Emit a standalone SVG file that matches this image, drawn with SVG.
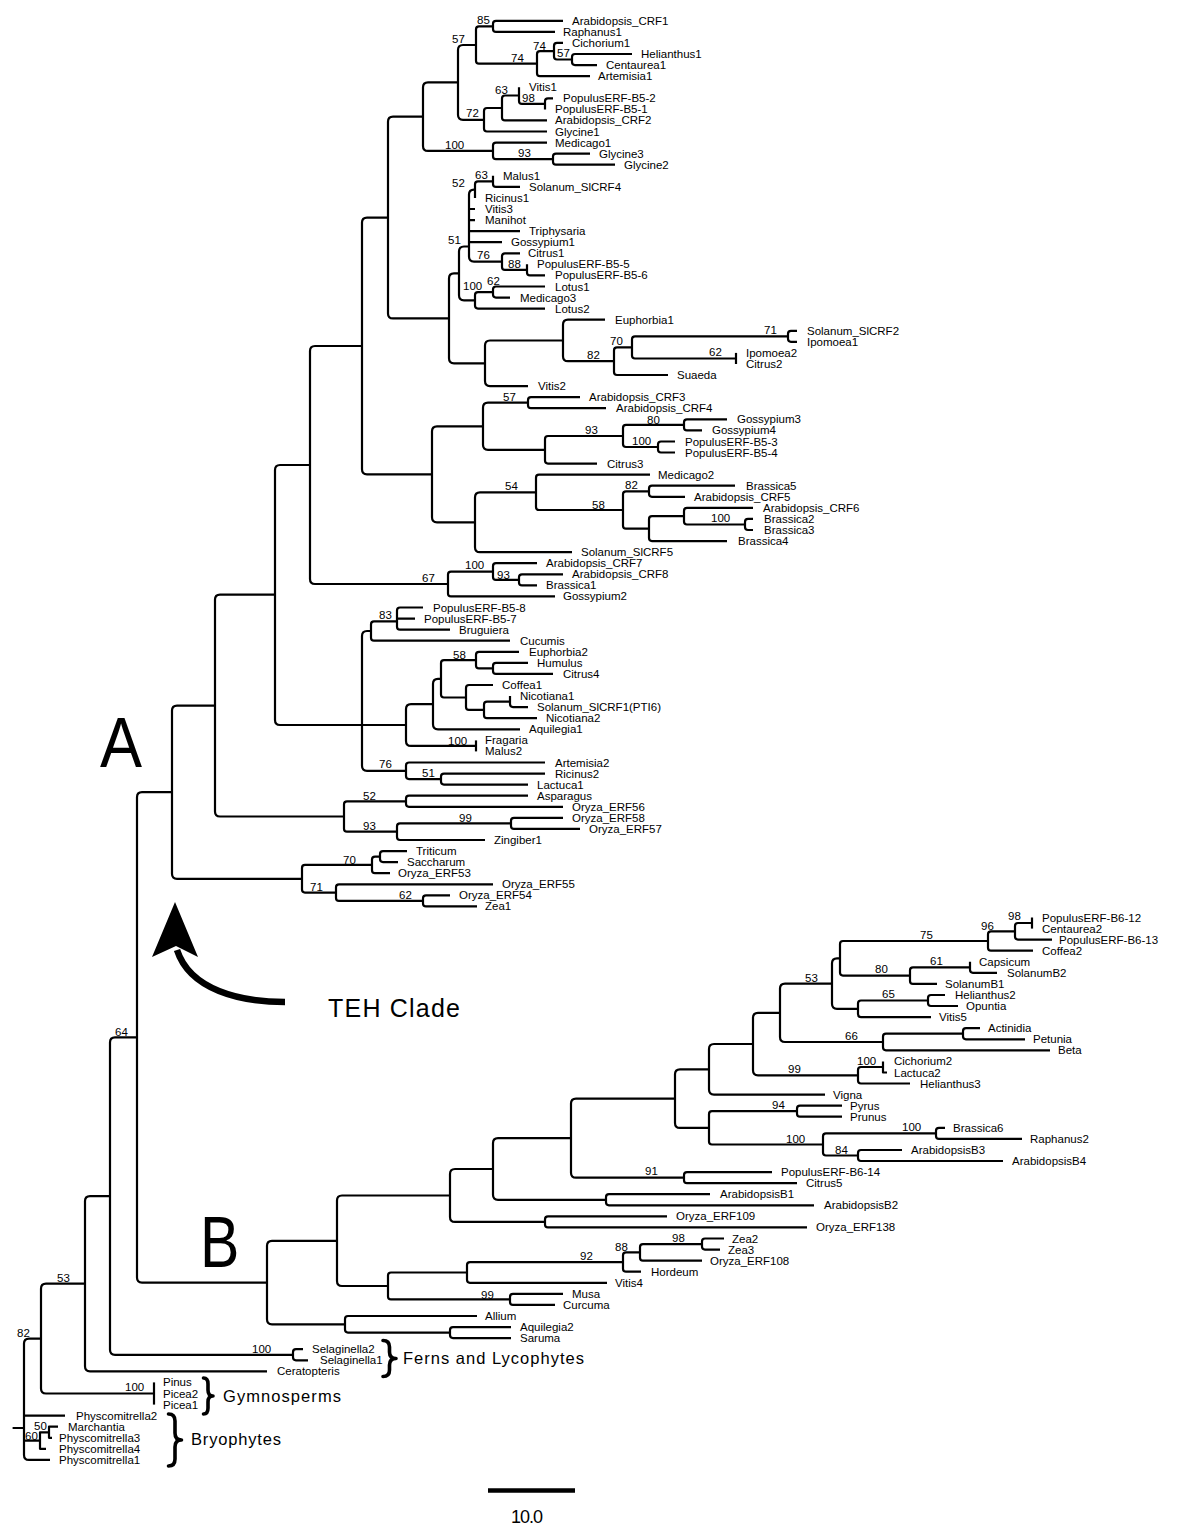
<svg xmlns="http://www.w3.org/2000/svg" width="1200" height="1529" viewBox="0 0 1200 1529">
<style>
.br{fill:none;stroke:#000;stroke-width:2.2;stroke-linejoin:round}
.lf{font-family:"Liberation Sans",Arial,sans-serif;font-size:11.5px;fill:#000}
.bs{font-family:"Liberation Sans",Arial,sans-serif;font-size:11.5px;fill:#000}
.big{font-family:"Liberation Sans",Arial,sans-serif;fill:#000}
.brace{fill:none;stroke:#000;stroke-width:3.6;stroke-linecap:round;stroke-linejoin:round}
</style>
<rect width="1200" height="1529" fill="#fff"/>
<g id="connectors" class="br">
<path d="M563 20.8H496Q493 20.8 493 23.8V28.9Q493 31.9 496 31.9H555"/>
<path d="M632 54H575Q572 54 572 57V62.1Q572 65.1 575 65.1H597"/>
<path d="M563 42.9H557Q554 42.9 554 45.9V56.5Q554 59.5 557 59.5H572"/>
<path d="M554 51.2H540Q537 51.2 537 54.2V73.2Q537 76.2 540 76.2H590"/>
<path d="M493 26.4H479Q476 26.4 476 29.4V60.7Q476 63.7 479 63.7H537"/>
<path d="M553 98.3H548Q545 98.3 545 101.3V109.4"/>
<path d="M519 87.2V100.9Q519 103.9 522 103.9H545"/>
<path d="M519 95.5H505Q502 95.5 502 98.5V117.4Q502 120.4 505 120.4H547"/>
<path d="M502 108H487Q484 108 484 111V128.5Q484 131.5 487 131.5H547"/>
<path d="M476 45H463Q458 45 458 50V114.8Q458 119.8 463 119.8H484"/>
<path d="M590 153.6H556Q553 153.6 553 156.6V161.7Q553 164.7 556 164.7H615"/>
<path d="M547 142.6H496Q493 142.6 493 145.6V156.2Q493 159.2 496 159.2H553"/>
<path d="M458 82.4H428Q423 82.4 423 87.4V145.9Q423 150.9 428 150.9H493"/>
<path d="M493 175.8V183.9Q493 186.9 496 186.9H520"/>
<path d="M493 181.4H478Q475 181.4 475 184.4V197.9"/>
<path d="M475 189.6H474Q469 189.6 469 194.6V256.6Q469 261.6 474 261.6H502M469 209H475M469 220.1H475M469 231.1H520M469 242.2H502"/>
<path d="M527 264.3V272.4Q527 275.4 530 275.4H545"/>
<path d="M520 253.3H505Q502 253.3 502 256.3V266.9Q502 269.9 505 269.9H527"/>
<path d="M545 286.5H496Q493 286.5 493 289.5V294.6Q493 297.6 496 297.6H510"/>
<path d="M493 292.1H478Q475 292.1 475 295.1V305.6Q475 308.6 478 308.6H545"/>
<path d="M469 246.5H464Q459 246.5 459 251.5V295.3Q459 300.3 464 300.3H475"/>
<path d="M797 330.8H791Q788 330.8 788 333.8V338.8Q788 341.8 791 341.8H797"/>
<path d="M736 352.9V364"/>
<path d="M788 336.3H635Q632 336.3 632 339.3V355.5Q632 358.5 635 358.5H736"/>
<path d="M632 347.4H617Q614 347.4 614 350.4V372Q614 375 617 375H668"/>
<path d="M605 319.7H568Q563 319.7 563 324.7V356.2Q563 361.2 568 361.2H614"/>
<path d="M563 340.5H490Q485 340.5 485 345.5V381.1Q485 386.1 490 386.1H528"/>
<path d="M459 273.4H454Q449 273.4 449 278.4V358.3Q449 363.3 454 363.3H485"/>
<path d="M423 116.7H393Q388 116.7 388 121.7V313.4Q388 318.4 393 318.4H449"/>
<path d="M580 397.2H531Q528 397.2 528 400.2V405.2Q528 408.2 531 408.2H606"/>
<path d="M727 419.3H687Q684 419.3 684 422.3V427.4Q684 430.4 687 430.4H702"/>
<path d="M675 441.5H661Q658 441.5 658 444.5V449.5Q658 452.5 661 452.5H675"/>
<path d="M684 424.9H626Q623 424.9 623 427.9V444Q623 447 626 447H658"/>
<path d="M623 436H548Q545 436 545 439V460.6Q545 463.6 548 463.6H597"/>
<path d="M528 402.7H488Q483 402.7 483 407.7V444.8Q483 449.8 488 449.8H545"/>
<path d="M735 485.7H652Q649 485.7 649 488.7V493.8Q649 496.8 652 496.8H685"/>
<path d="M753 518.9H748Q745 518.9 745 521.9V527Q745 530 748 530H753"/>
<path d="M753 507.9H687Q684 507.9 684 510.9V521.5Q684 524.5 687 524.5H745"/>
<path d="M684 516.2H652Q649 516.2 649 519.2V538.1Q649 541.1 652 541.1H727"/>
<path d="M649 491.3H626Q623 491.3 623 494.3V525.7Q623 528.7 626 528.7H649"/>
<path d="M650 474.7H539Q536 474.7 536 477.7V507Q536 510 539 510H623"/>
<path d="M536 492.4H480Q475 492.4 475 497.4V547.2Q475 552.2 480 552.2H572"/>
<path d="M483 426.3H437Q432 426.3 432 431.3V517.3Q432 522.3 437 522.3H475"/>
<path d="M388 217.6H367Q362 217.6 362 222.6V469.3Q362 474.3 367 474.3H432"/>
<path d="M563 574.3H522Q519 574.3 519 577.3V582.4Q519 585.4 522 585.4H537"/>
<path d="M537 563.2H496Q493 563.2 493 566.2V576.9Q493 579.9 496 579.9H519"/>
<path d="M493 571.6H451Q448 571.6 448 574.6V593.4Q448 596.4 451 596.4H555"/>
<path d="M362 346H315Q310 346 310 351V579Q310 584 315 584H448"/>
<path d="M423 607.5H400Q397 607.5 397 610.5V626.7Q397 629.7 400 629.7H450M397 618.6H415"/>
<path d="M397 621.4H374Q371 621.4 371 624.4V637.7Q371 640.7 374 640.7H510"/>
<path d="M528 662.9H496Q493 662.9 493 665.9V670.9Q493 673.9 496 673.9H553"/>
<path d="M519 651.8H479Q476 651.8 476 654.8V665.4Q476 668.4 479 668.4H493"/>
<path d="M510 696.1V704.1Q510 707.1 513 707.1H528"/>
<path d="M510 701.6H487Q484 701.6 484 704.6V715.2Q484 718.2 487 718.2H537"/>
<path d="M493 685H469Q466 685 466 688V706.9Q466 709.9 469 709.9H484"/>
<path d="M476 660.1H444Q441 660.1 441 663.1V694.5Q441 697.5 444 697.5H466"/>
<path d="M441 678.8H438Q433 678.8 433 683.8V724.3Q433 729.3 438 729.3H520"/>
<path d="M476 740.4V751.4"/>
<path d="M433 704.1H411Q406 704.1 406 709.1V740.9Q406 745.9 411 745.9H476"/>
<path d="M545 773.6H444Q441 773.6 441 776.6V781.6Q441 784.6 444 784.6H528"/>
<path d="M545 762.5H409Q406 762.5 406 765.5V776.1Q406 779.1 409 779.1H441"/>
<path d="M371 631H367Q362 631 362 636V765.8Q362 770.8 367 770.8H406M362 725H406"/>
<path d="M310 465H280Q275 465 275 470V720Q275 725 280 725H362"/>
<path d="M528 795.7H409Q406 795.7 406 798.7V803.8Q406 806.8 409 806.8H563"/>
<path d="M563 817.8H514Q511 817.8 511 820.8V825.9Q511 828.9 514 828.9H580"/>
<path d="M511 823.4H400Q397 823.4 397 826.4V837Q397 840 400 840H485"/>
<path d="M406 801.3H347Q344 801.3 344 804.3V828.7Q344 831.7 347 831.7H397"/>
<path d="M275 594.6H220Q215 594.6 215 599.6V811.5Q215 816.5 220 816.5H344"/>
<path d="M407 851.1H383Q380 851.1 380 854.1V859.1Q380 862.1 383 862.1H398"/>
<path d="M380 856.6H375Q372 856.6 372 859.6V870.2Q372 873.2 375 873.2H390"/>
<path d="M450 895.3H426Q423 895.3 423 898.3V903.4Q423 906.4 426 906.4H477"/>
<path d="M493 884.3H339Q336 884.3 336 887.3V897.9Q336 900.9 339 900.9H423"/>
<path d="M372 864.9H305Q302 864.9 302 867.9V889.6Q302 892.6 305 892.6H336"/>
<path d="M215 705.6H177Q172 705.6 172 710.6V873.8Q172 878.8 177 878.8H302"/>
<path d="M1032 917.5V928.6"/>
<path d="M1032 923H1018Q1015 923 1015 926V936.6Q1015 939.6 1018 939.6H1052"/>
<path d="M1015 931.3H991Q988 931.3 988 934.3V947.7Q988 950.7 991 950.7H1033"/>
<path d="M970 961.8V969.8Q970 972.8 973 972.8H997"/>
<path d="M970 967.3H913Q910 967.3 910 970.3V980.9Q910 983.9 913 983.9H937"/>
<path d="M988 941H843Q840 941 840 944V972.6Q840 975.6 843 975.6H910"/>
<path d="M945 995H931Q928 995 928 998V1003Q928 1006 931 1006H958"/>
<path d="M928 1000.5H861Q858 1000.5 858 1003.5V1014.1Q858 1017.1 861 1017.1H931"/>
<path d="M840 958.3H837Q832 958.3 832 963.3V1003.8Q832 1008.8 837 1008.8H858"/>
<path d="M980 1028.2H966Q963 1028.2 963 1031.2V1036.3Q963 1039.3 966 1039.3H1025"/>
<path d="M963 1033.7H886Q883 1033.7 883 1036.7V1047.3Q883 1050.3 886 1050.3H1050"/>
<path d="M832 983.6H785Q780 983.6 780 988.6V1037Q780 1042 785 1042H883"/>
<path d="M883 1061.4V1072.5H887"/>
<path d="M883 1067H861Q858 1067 858 1070V1080.5Q858 1083.5 861 1083.5H910"/>
<path d="M780 1012.8H758Q753 1012.8 753 1017.8V1070.3Q753 1075.3 758 1075.3H858"/>
<path d="M753 1044H714Q709 1044 709 1049V1089.6Q709 1094.6 714 1094.6H825"/>
<path d="M842 1105.7H800Q797 1105.7 797 1108.7V1113.7Q797 1116.7 800 1116.7H842"/>
<path d="M945 1127.8H939Q936 1127.8 936 1130.8V1135.9Q936 1138.9 939 1138.9H1022"/>
<path d="M902 1150H861Q858 1150 858 1153V1158Q858 1161 861 1161H1003"/>
<path d="M936 1133.4H826Q823 1133.4 823 1136.4V1152.5Q823 1155.5 826 1155.5H858"/>
<path d="M797 1111.2H712Q709 1111.2 709 1114.2V1141.5Q709 1144.5 712 1144.5H823"/>
<path d="M709 1069.3H680Q675 1069.3 675 1074.3V1122.9Q675 1127.9 680 1127.9H709"/>
<path d="M772 1172.1H687Q684 1172.1 684 1175.1V1180.2Q684 1183.2 687 1183.2H797"/>
<path d="M675 1098.6H576Q571 1098.6 571 1103.6V1172.7Q571 1177.7 576 1177.7H684"/>
<path d="M710 1194.2H609Q606 1194.2 606 1197.2V1202.3Q606 1205.3 609 1205.3H814"/>
<path d="M571 1138.2H498Q493 1138.2 493 1143.2V1194.8Q493 1199.8 498 1199.8H606"/>
<path d="M667 1216.4H548Q545 1216.4 545 1219.4V1224.4Q545 1227.4 548 1227.4H807"/>
<path d="M493 1169H455Q450 1169 450 1174V1216.9Q450 1221.9 455 1221.9H545"/>
<path d="M724 1238.5H705Q702 1238.5 702 1241.5V1246.6Q702 1249.6 705 1249.6H720"/>
<path d="M702 1244.1H643Q640 1244.1 640 1247.1V1257.7Q640 1260.7 643 1260.7H702"/>
<path d="M640 1252.4H626Q623 1252.4 623 1255.4V1268.7Q623 1271.7 626 1271.7H641"/>
<path d="M623 1262.1H470Q467 1262.1 467 1265.1V1279.8Q467 1282.8 470 1282.8H607"/>
<path d="M563 1293.9H513Q510 1293.9 510 1296.9V1301.9Q510 1304.9 513 1304.9H555"/>
<path d="M467 1272.5H391Q388 1272.5 388 1275.5V1296.4Q388 1299.4 391 1299.4H510"/>
<path d="M450 1195.5H342Q337 1195.5 337 1200.5V1281Q337 1286 342 1286H388"/>
<path d="M511 1327.1H453Q450 1327.1 450 1330.1V1335.1Q450 1338.1 453 1338.1H511"/>
<path d="M477 1316H348Q345 1316 345 1319V1329.6Q345 1332.6 348 1332.6H450"/>
<path d="M337 1240.8H272Q267 1240.8 267 1245.8V1319.3Q267 1324.3 272 1324.3H345"/>
<path d="M172 792.2H142Q137 792.2 137 797.2V1277.6Q137 1282.6 142 1282.6H267"/>
<path d="M303 1349.2H296Q293 1349.2 293 1352.2V1357.3Q293 1360.3 296 1360.3H308"/>
<path d="M137 1037.4H115Q110 1037.4 110 1042.4V1349.8Q110 1354.8 115 1354.8H293"/>
<path d="M110 1196.1H90Q85 1196.1 85 1201.1V1366.3Q85 1371.3 90 1371.3H267"/>
<path d="M154 1382.4V1404.6"/>
<path d="M85 1283.7H46Q41 1283.7 41 1288.7V1388.5Q41 1393.5 46 1393.5H154"/>
<path d="M58 1426.7H49V1437.8H52"/>
<path d="M49 1432.3H40V1448.8H46"/>
<path d="M41 1338.6H29Q24 1338.6 24 1343.6V1454.9Q24 1459.9 29 1459.9H50M24 1415.6H65M24 1440.6H40M12.6 1428H24"/>
</g>
<g id="support" class="bs">
<text x="477" y="24">85</text><text x="452" y="42.5">57</text><text x="511" y="61.5">74</text><text x="533" y="49.5">74</text><text x="557" y="57">57</text>
<text x="495" y="94">63</text><text x="522" y="102">98</text><text x="466" y="117">72</text><text x="445" y="148.5">100</text><text x="518" y="157">93</text>
<text x="475" y="179">63</text><text x="452" y="187">52</text><text x="448" y="244">51</text><text x="477" y="259">76</text><text x="508" y="267.5">88</text>
<text x="463" y="290">100</text><text x="487" y="285">62</text><text x="587" y="359">82</text><text x="610" y="344.5">70</text><text x="764" y="334">71</text>
<text x="709" y="356">62</text><text x="503" y="401">57</text><text x="585" y="433.5">93</text><text x="647" y="423.5">80</text><text x="632" y="445">100</text>
<text x="505" y="490">54</text><text x="625" y="489">82</text><text x="592" y="508.5">58</text><text x="711" y="522">100</text><text x="465" y="569">100</text>
<text x="497" y="578.5">93</text><text x="422" y="581.5">67</text><text x="379" y="619">83</text><text x="453" y="658.5">58</text><text x="448" y="744.5">100</text>
<text x="379" y="768">76</text><text x="422" y="777">51</text><text x="363" y="799.5">52</text><text x="459" y="821.5">99</text><text x="363" y="830">93</text>
<text x="343" y="863.5">70</text><text x="310" y="890.5">71</text><text x="399" y="899">62</text>
<text x="1008" y="920">98</text><text x="981" y="929.5">96</text><text x="920" y="939">75</text><text x="930" y="965">61</text><text x="875" y="973">80</text>
<text x="805" y="981.5">53</text><text x="882" y="998">65</text><text x="845" y="1040">66</text><text x="857" y="1065">100</text><text x="788" y="1073">99</text>
<text x="772" y="1109">94</text><text x="902" y="1131">100</text><text x="786" y="1143">100</text><text x="835" y="1153.5">84</text><text x="645" y="1175">91</text>
<text x="672" y="1242">98</text><text x="615" y="1250.5">88</text><text x="580" y="1260">92</text><text x="481" y="1298.5">99</text><text x="252" y="1352.5">100</text>
<text x="115" y="1035.5">64</text><text x="57" y="1281.5">53</text><text x="125" y="1390.5">100</text><text x="17" y="1336.5">82</text><text x="34" y="1430">50</text><text x="25" y="1440">60</text>
</g>
<g id="leaves" class="lf">
<g id="t-Arabidopsis_CRF1"><text x="572" y="24.8">Arabidopsis_CRF1</text></g>
<g id="t-Raphanus1"><text x="563" y="35.9">Raphanus1</text></g>
<g id="t-Cichorium1"><text x="572" y="46.9">Cichorium1</text></g>
<g id="t-Helianthus1"><text x="641" y="58">Helianthus1</text></g>
<g id="t-Centaurea1"><text x="606" y="69.1">Centaurea1</text></g>
<g id="t-Artemisia1"><text x="598" y="80.2">Artemisia1</text></g>
<g id="t-Vitis1"><text x="529" y="91.2">Vitis1</text></g>
<g id="t-PopulusERF-B5-2"><text x="563" y="102.3">PopulusERF-B5-2</text></g>
<g id="t-PopulusERF-B5-1"><text x="555" y="113.4">PopulusERF-B5-1</text></g>
<g id="t-Arabidopsis_CRF2"><text x="555" y="124.4">Arabidopsis_CRF2</text></g>
<g id="t-Glycine1"><text x="555" y="135.5">Glycine1</text></g>
<g id="t-Medicago1"><text x="555" y="146.6">Medicago1</text></g>
<g id="t-Glycine3"><text x="599" y="157.6">Glycine3</text></g>
<g id="t-Glycine2"><text x="624" y="168.7">Glycine2</text></g>
<g id="t-Malus1"><text x="503" y="179.8">Malus1</text></g>
<g id="t-Solanum_SlCRF4"><text x="529" y="190.9">Solanum_SlCRF4</text></g>
<g id="t-Ricinus1"><text x="485" y="201.9">Ricinus1</text></g>
<g id="t-Vitis3"><text x="485" y="213">Vitis3</text></g>
<g id="t-Manihot"><text x="485" y="224.1">Manihot</text></g>
<g id="t-Triphysaria"><text x="529" y="235.1">Triphysaria</text></g>
<g id="t-Gossypium1"><text x="511" y="246.2">Gossypium1</text></g>
<g id="t-Citrus1"><text x="528" y="257.3">Citrus1</text></g>
<g id="t-PopulusERF-B5-5"><text x="537" y="268.3">PopulusERF-B5-5</text></g>
<g id="t-PopulusERF-B5-6"><text x="555" y="279.4">PopulusERF-B5-6</text></g>
<g id="t-Lotus1"><text x="555" y="290.5">Lotus1</text></g>
<g id="t-Medicago3"><text x="520" y="301.6">Medicago3</text></g>
<g id="t-Lotus2"><text x="555" y="312.6">Lotus2</text></g>
<g id="t-Euphorbia1"><text x="615" y="323.7">Euphorbia1</text></g>
<g id="t-Solanum_SlCRF2"><text x="807" y="334.8">Solanum_SlCRF2</text></g>
<g id="t-Ipomoea1"><text x="807" y="345.8">Ipomoea1</text></g>
<g id="t-Ipomoea2"><text x="746" y="356.9">Ipomoea2</text></g>
<g id="t-Citrus2"><text x="746" y="368">Citrus2</text></g>
<g id="t-Suaeda"><text x="677" y="379">Suaeda</text></g>
<g id="t-Vitis2"><text x="538" y="390.1">Vitis2</text></g>
<g id="t-Arabidopsis_CRF3"><text x="589" y="401.2">Arabidopsis_CRF3</text></g>
<g id="t-Arabidopsis_CRF4"><text x="616" y="412.2">Arabidopsis_CRF4</text></g>
<g id="t-Gossypium3"><text x="737" y="423.3">Gossypium3</text></g>
<g id="t-Gossypium4"><text x="712" y="434.4">Gossypium4</text></g>
<g id="t-PopulusERF-B5-3"><text x="685" y="445.5">PopulusERF-B5-3</text></g>
<g id="t-PopulusERF-B5-4"><text x="685" y="456.5">PopulusERF-B5-4</text></g>
<g id="t-Citrus3"><text x="607" y="467.6">Citrus3</text></g>
<g id="t-Medicago2"><text x="658" y="478.7">Medicago2</text></g>
<g id="t-Brassica5"><text x="746" y="489.7">Brassica5</text></g>
<g id="t-Arabidopsis_CRF5"><text x="694" y="500.8">Arabidopsis_CRF5</text></g>
<g id="t-Arabidopsis_CRF6"><text x="763" y="511.9">Arabidopsis_CRF6</text></g>
<g id="t-Brassica2"><text x="764" y="522.9">Brassica2</text></g>
<g id="t-Brassica3"><text x="764" y="534">Brassica3</text></g>
<g id="t-Brassica4"><text x="738" y="545.1">Brassica4</text></g>
<g id="t-Solanum_SlCRF5"><text x="581" y="556.2">Solanum_SlCRF5</text></g>
<g id="t-Arabidopsis_CRF7"><text x="546" y="567.2">Arabidopsis_CRF7</text></g>
<g id="t-Arabidopsis_CRF8"><text x="572" y="578.3">Arabidopsis_CRF8</text></g>
<g id="t-Brassica1"><text x="546" y="589.4">Brassica1</text></g>
<g id="t-Gossypium2"><text x="563" y="600.4">Gossypium2</text></g>
<g id="t-PopulusERF-B5-8"><text x="433" y="611.5">PopulusERF-B5-8</text></g>
<g id="t-PopulusERF-B5-7"><text x="424" y="622.6">PopulusERF-B5-7</text></g>
<g id="t-Bruguiera"><text x="459" y="633.7">Bruguiera</text></g>
<g id="t-Cucumis"><text x="520" y="644.7">Cucumis</text></g>
<g id="t-Euphorbia2"><text x="529" y="655.8">Euphorbia2</text></g>
<g id="t-Humulus"><text x="537" y="666.9">Humulus</text></g>
<g id="t-Citrus4"><text x="563" y="677.9">Citrus4</text></g>
<g id="t-Coffea1"><text x="502" y="689">Coffea1</text></g>
<g id="t-Nicotiana1"><text x="520" y="700.1">Nicotiana1</text></g>
<g id="t-Solanum_SlCRF1_PTI6"><text x="537" y="711.1">Solanum_SlCRF1(PTI6)</text></g>
<g id="t-Nicotiana2"><text x="546" y="722.2">Nicotiana2</text></g>
<g id="t-Aquilegia1"><text x="529" y="733.3">Aquilegia1</text></g>
<g id="t-Fragaria"><text x="485" y="744.4">Fragaria</text></g>
<g id="t-Malus2"><text x="485" y="755.4">Malus2</text></g>
<g id="t-Artemisia2"><text x="555" y="766.5">Artemisia2</text></g>
<g id="t-Ricinus2"><text x="555" y="777.6">Ricinus2</text></g>
<g id="t-Lactuca1"><text x="537" y="788.6">Lactuca1</text></g>
<g id="t-Asparagus"><text x="537" y="799.7">Asparagus</text></g>
<g id="t-Oryza_ERF56"><text x="572" y="810.8">Oryza_ERF56</text></g>
<g id="t-Oryza_ERF58"><text x="572" y="821.8">Oryza_ERF58</text></g>
<g id="t-Oryza_ERF57"><text x="589" y="832.9">Oryza_ERF57</text></g>
<g id="t-Zingiber1"><text x="494" y="844">Zingiber1</text></g>
<g id="t-Triticum"><text x="416" y="855.1">Triticum</text></g>
<g id="t-Saccharum"><text x="407" y="866.1">Saccharum</text></g>
<g id="t-Oryza_ERF53"><text x="398" y="877.2">Oryza_ERF53</text></g>
<g id="t-Oryza_ERF55"><text x="502" y="888.3">Oryza_ERF55</text></g>
<g id="t-Oryza_ERF54"><text x="459" y="899.3">Oryza_ERF54</text></g>
<g id="t-Zea1"><text x="485" y="910.4">Zea1</text></g>
<g id="t-PopulusERF-B6-12"><text x="1042" y="921.5">PopulusERF-B6-12</text></g>
<g id="t-Centaurea2"><text x="1042" y="932.6">Centaurea2</text></g>
<g id="t-PopulusERF-B6-13"><text x="1059" y="943.6">PopulusERF-B6-13</text></g>
<g id="t-Coffea2"><text x="1042" y="954.7">Coffea2</text></g>
<g id="t-Capsicum"><text x="979" y="965.8">Capsicum</text></g>
<g id="t-SolanumB2"><text x="1007" y="976.8">SolanumB2</text></g>
<g id="t-SolanumB1"><text x="945" y="987.9">SolanumB1</text></g>
<g id="t-Helianthus2"><text x="955" y="999">Helianthus2</text></g>
<g id="t-Opuntia"><text x="966" y="1010">Opuntia</text></g>
<g id="t-Vitis5"><text x="939" y="1021.1">Vitis5</text></g>
<g id="t-Actinidia"><text x="988" y="1032.2">Actinidia</text></g>
<g id="t-Petunia"><text x="1033" y="1043.3">Petunia</text></g>
<g id="t-Beta"><text x="1058" y="1054.3">Beta</text></g>
<g id="t-Cichorium2"><text x="894" y="1065.4">Cichorium2</text></g>
<g id="t-Lactuca2"><text x="894" y="1076.5">Lactuca2</text></g>
<g id="t-Helianthus3"><text x="920" y="1087.5">Helianthus3</text></g>
<g id="t-Vigna"><text x="833" y="1098.6">Vigna</text></g>
<g id="t-Pyrus"><text x="850" y="1109.7">Pyrus</text></g>
<g id="t-Prunus"><text x="850" y="1120.7">Prunus</text></g>
<g id="t-Brassica6"><text x="953" y="1131.8">Brassica6</text></g>
<g id="t-Raphanus2"><text x="1030" y="1142.9">Raphanus2</text></g>
<g id="t-ArabidopsisB3"><text x="911" y="1154">ArabidopsisB3</text></g>
<g id="t-ArabidopsisB4"><text x="1012" y="1165">ArabidopsisB4</text></g>
<g id="t-PopulusERF-B6-14"><text x="781" y="1176.1">PopulusERF-B6-14</text></g>
<g id="t-Citrus5"><text x="806" y="1187.2">Citrus5</text></g>
<g id="t-ArabidopsisB1"><text x="720" y="1198.2">ArabidopsisB1</text></g>
<g id="t-ArabidopsisB2"><text x="824" y="1209.3">ArabidopsisB2</text></g>
<g id="t-Oryza_ERF109"><text x="676" y="1220.4">Oryza_ERF109</text></g>
<g id="t-Oryza_ERF138"><text x="816" y="1231.4">Oryza_ERF138</text></g>
<g id="t-Zea2"><text x="732" y="1242.5">Zea2</text></g>
<g id="t-Zea3"><text x="728" y="1253.6">Zea3</text></g>
<g id="t-Oryza_ERF108"><text x="710" y="1264.7">Oryza_ERF108</text></g>
<g id="t-Hordeum"><text x="651" y="1275.7">Hordeum</text></g>
<g id="t-Vitis4"><text x="615" y="1286.8">Vitis4</text></g>
<g id="t-Musa"><text x="572" y="1297.9">Musa</text></g>
<g id="t-Curcuma"><text x="563" y="1308.9">Curcuma</text></g>
<g id="t-Allium"><text x="485" y="1320">Allium</text></g>
<g id="t-Aquilegia2"><text x="520" y="1331.1">Aquilegia2</text></g>
<g id="t-Saruma"><text x="520" y="1342.1">Saruma</text></g>
<g id="t-Selaginella2"><text x="312" y="1353.2">Selaginella2</text></g>
<g id="t-Selaginella1"><text x="320" y="1364.3">Selaginella1</text></g>
<g id="t-Ceratopteris"><text x="277" y="1375.3">Ceratopteris</text></g>
<g id="t-Pinus"><text x="163" y="1386.4">Pinus</text></g>
<g id="t-Picea2"><text x="163" y="1397.5">Picea2</text></g>
<g id="t-Picea1"><text x="163" y="1408.6">Picea1</text></g>
<g id="t-Physcomitrella2"><text x="76" y="1419.6">Physcomitrella2</text></g>
<g id="t-Marchantia"><text x="68" y="1430.7">Marchantia</text></g>
<g id="t-Physcomitrella3"><text x="59" y="1441.8">Physcomitrella3</text></g>
<g id="t-Physcomitrella4"><text x="59" y="1452.8">Physcomitrella4</text></g>
<g id="t-Physcomitrella1"><text x="59" y="1463.9">Physcomitrella1</text></g>
</g>
<g id="groups">
<path class="brace" d="M383 1340.5Q389.5 1340.5 389.5 1347V1352Q389.5 1358.5 396 1358.5Q389.5 1358.5 389.5 1365V1370Q389.5 1376.5 383 1376.5"/>
<path class="brace" d="M203.5 1378Q208 1378 208 1384V1390Q208 1396 213 1396Q208 1396 208 1402V1408Q208 1414 203.5 1414"/>
<path class="brace" d="M168.5 1414Q175 1414 175 1421V1433Q175 1440 181.5 1440Q175 1440 175 1447V1459Q175 1466 168.5 1466"/>
<text class="big" x="403" y="1363.5" font-size="16.5" textLength="181" lengthAdjust="spacing">Ferns and Lycophytes</text>
<text class="big" x="223" y="1401.5" font-size="16.5" textLength="118" lengthAdjust="spacing">Gymnosperms</text>
<text class="big" x="191" y="1444.5" font-size="16.5" textLength="90" lengthAdjust="spacing">Bryophytes</text>
<text class="big" font-size="70" transform="translate(100 767) scale(0.9 1)">A</text>
<text class="big" font-size="72" transform="translate(200 1267) scale(0.82 1)">B</text>
<text class="big" x="328" y="1017" font-size="25" textLength="132" lengthAdjust="spacing">TEH Clade</text>
<path d="M285 1002C240 1002 190 990 177 950" fill="none" stroke="#000" stroke-width="6.5"/>
<polygon points="175,902 198,957 176,946 152,957" fill="#000"/>
<line x1="488" y1="1490.5" x2="575" y2="1490.5" stroke="#000" stroke-width="4.5"/>
<text class="big" x="511" y="1523" font-size="18" textLength="32" lengthAdjust="spacing">10.0</text>
</g>
</svg>
